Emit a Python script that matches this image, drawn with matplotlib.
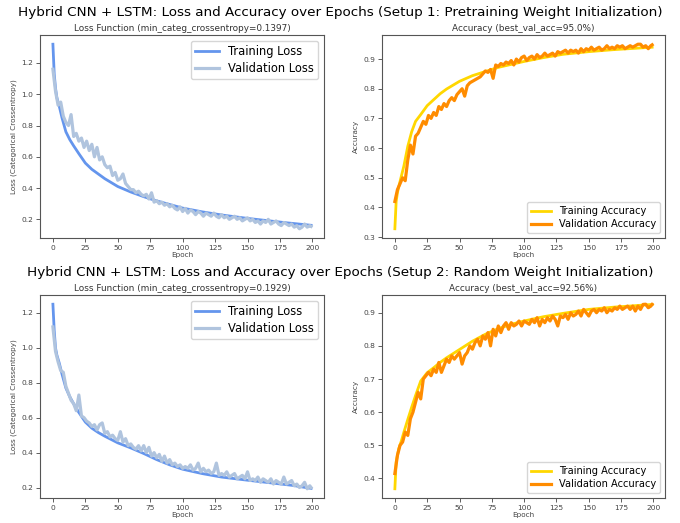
import numpy as np
import matplotlib
matplotlib.use("Agg")
import matplotlib.pyplot as plt

# epochs used for the noisy validation curves (every 2nd epoch + last one)
val_epochs = list(range(0, 200, 2)) + [199]

# ---------------- Setup 1: pretraining weight init ----------------
s1_train_loss_ep = [0, 1, 2, 3, 4, 5, 7, 10, 13, 16, 20, 25, 30, 35, 40, 50, 60, 70, 80, 90, 100, 115, 130, 150, 165, 180, 199]
s1_train_loss = [1.32, 1.13, 1.04, 0.98, 0.95, 0.92, 0.85, 0.76, 0.71, 0.67, 0.62, 0.56, 0.52, 0.49, 0.46, 0.41, 0.375,
                 0.345, 0.318, 0.295, 0.272, 0.248, 0.228, 0.206, 0.192, 0.178, 0.162]
s1_val_loss = [1.16, 1.02, 0.93, 0.95, 0.86, 0.82, 0.80, 0.87, 0.73, 0.75,
               0.70, 0.72, 0.66, 0.70, 0.64, 0.68, 0.60, 0.66, 0.58, 0.60,
               0.55, 0.53, 0.54, 0.48, 0.50, 0.45, 0.46, 0.49, 0.43, 0.41,
               0.39, 0.39, 0.37, 0.38, 0.36, 0.35, 0.36, 0.33, 0.37, 0.31,
               0.32, 0.30, 0.31, 0.29, 0.30, 0.28, 0.29, 0.27, 0.26, 0.28,
               0.25, 0.27, 0.24, 0.26, 0.25, 0.23, 0.25, 0.24, 0.22, 0.24,
               0.23, 0.22, 0.24, 0.22, 0.21, 0.23, 0.21, 0.22, 0.20, 0.21,
               0.22, 0.20, 0.21, 0.19, 0.20, 0.21, 0.19, 0.20, 0.18, 0.19,
               0.17, 0.19, 0.18, 0.20, 0.17, 0.18, 0.19, 0.17, 0.16, 0.18,
               0.17, 0.16, 0.17, 0.15, 0.16, 0.1397, 0.15, 0.17, 0.15, 0.16,
               0.155]

s1_train_acc_ep = [0, 1, 2, 3, 5, 7, 10, 13, 16, 20, 25, 30, 35, 40, 50, 60, 70, 80, 90, 100, 115, 130, 150, 170, 185, 199]
s1_train_acc = [0.328, 0.42, 0.45, 0.47, 0.505, 0.54, 0.606, 0.655, 0.69, 0.713, 0.743, 0.763, 0.783, 0.799, 0.825,
                0.844, 0.858, 0.872, 0.882, 0.892, 0.905, 0.916, 0.925, 0.932, 0.936, 0.94]
s1_val_acc = [0.42, 0.46, 0.48, 0.50, 0.49, 0.56, 0.61, 0.58, 0.64, 0.65,
              0.67, 0.69, 0.68, 0.71, 0.70, 0.72, 0.71, 0.74, 0.73, 0.75,
              0.74, 0.76, 0.77, 0.76, 0.78, 0.79, 0.80, 0.775, 0.81, 0.82,
              0.825, 0.83, 0.835, 0.84, 0.85, 0.86, 0.855, 0.865, 0.835, 0.88,
              0.875, 0.885, 0.88, 0.89, 0.885, 0.895, 0.88, 0.90, 0.89, 0.905,
              0.91, 0.895, 0.905, 0.91, 0.90, 0.915, 0.905, 0.91, 0.92, 0.91,
              0.915, 0.92, 0.91, 0.925, 0.92, 0.925, 0.93, 0.92, 0.93, 0.925,
              0.93, 0.92, 0.935, 0.925, 0.935, 0.93, 0.94, 0.93, 0.935, 0.94,
              0.93, 0.935, 0.945, 0.935, 0.94, 0.935, 0.945, 0.94, 0.945, 0.935,
              0.94, 0.945, 0.94, 0.945, 0.95, 0.95, 0.94, 0.945, 0.935, 0.945,
              0.948]

# ---------------- Setup 2: random weight init ----------------
s2_train_loss_ep = [0, 1, 2, 3, 5, 7, 10, 13, 16, 20, 25, 30, 35, 40, 50, 60, 70, 80, 90, 100, 115, 130, 150, 170, 185, 199]
s2_train_loss = [1.25, 1.10, 1.00, 0.96, 0.91, 0.85, 0.77, 0.72, 0.68, 0.63, 0.575, 0.54, 0.515, 0.494, 0.456, 0.427,
                 0.395, 0.36, 0.33, 0.305, 0.28, 0.26, 0.242, 0.225, 0.212, 0.195]
s2_val_loss = [1.12, 0.98, 0.92, 0.87, 0.86, 0.78, 0.74, 0.70, 0.68, 0.64,
               0.73, 0.61, 0.60, 0.58, 0.57, 0.55, 0.56, 0.53, 0.56, 0.57,
               0.51, 0.52, 0.49, 0.50, 0.48, 0.47, 0.52, 0.46, 0.48, 0.44,
               0.45, 0.43, 0.42, 0.44, 0.41, 0.44, 0.40, 0.43, 0.38, 0.40,
               0.37, 0.39, 0.35, 0.38, 0.34, 0.36, 0.33, 0.34, 0.32, 0.33,
               0.31, 0.32, 0.31, 0.33, 0.30, 0.31, 0.34, 0.29, 0.31, 0.29,
               0.30, 0.28, 0.29, 0.34, 0.27, 0.28, 0.27, 0.29, 0.26, 0.27,
               0.28, 0.25, 0.26, 0.27, 0.25, 0.29, 0.24, 0.25, 0.24, 0.26,
               0.23, 0.25, 0.24, 0.23, 0.25, 0.22, 0.24, 0.23, 0.22, 0.26,
               0.22, 0.23, 0.24, 0.21, 0.22, 0.20, 0.21, 0.23, 0.1929, 0.21,
               0.20]

s2_train_acc_ep = [0, 1, 2, 3, 5, 7, 10, 13, 16, 20, 25, 30, 35, 40, 50, 60, 70, 80, 90, 100, 115, 130, 150, 170, 185, 199]
s2_train_acc = [0.369, 0.45, 0.47, 0.49, 0.513, 0.54, 0.578, 0.615, 0.65, 0.694, 0.719, 0.734, 0.75, 0.764, 0.789,
                0.814, 0.835, 0.852, 0.865, 0.875, 0.888, 0.898, 0.91, 0.917, 0.921, 0.925]
s2_val_acc = [0.415, 0.47, 0.50, 0.51, 0.54, 0.53, 0.58, 0.60, 0.63, 0.66,
              0.64, 0.70, 0.71, 0.72, 0.71, 0.73, 0.72, 0.75, 0.72, 0.74,
              0.76, 0.75, 0.77, 0.76, 0.77, 0.78, 0.745, 0.77, 0.78, 0.80,
              0.79, 0.81, 0.82, 0.80, 0.83, 0.82, 0.84, 0.80, 0.85, 0.83,
              0.86, 0.84, 0.86, 0.87, 0.85, 0.87, 0.86, 0.865, 0.875, 0.86,
              0.875, 0.87, 0.865, 0.88, 0.87, 0.885, 0.86, 0.88, 0.87, 0.885,
              0.875, 0.89, 0.88, 0.86, 0.89, 0.885, 0.895, 0.88, 0.90, 0.89,
              0.895, 0.905, 0.89, 0.91, 0.90, 0.89, 0.905, 0.91, 0.90, 0.91,
              0.905, 0.915, 0.90, 0.91, 0.905, 0.915, 0.91, 0.92, 0.91, 0.915,
              0.92, 0.91, 0.92, 0.905, 0.92, 0.91, 0.925, 0.9256, 0.915, 0.92,
              0.925]

row_titles = ["Hybrid CNN + LSTM: Loss and Accuracy over Epochs (Setup 1: Pretraining Weight Initialization)",
              "Hybrid CNN + LSTM: Loss and Accuracy over Epochs (Setup 2: Random Weight Initialization)"]
loss_titles = ["Loss Function (min_categ_crossentropy=0.1397)", "Loss Function (min_categ_crossentropy=0.1929)"]
acc_titles = ["Accuracy (best_val_acc=95.0%)", "Accuracy (best_val_acc=92.56%)"]

rows = [
    (s1_train_loss_ep, s1_train_loss, s1_val_loss, s1_train_acc_ep, s1_train_acc, s1_val_acc),
    (s2_train_loss_ep, s2_train_loss, s2_val_loss, s2_train_acc_ep, s2_train_acc, s2_val_acc),
]

W, H = 680, 523
fig = plt.figure(figsize=(W / 100, H / 100), dpi=100)


def style(ax, title, ylabel):
    ax.set_title(title, fontsize=6.4, color="#333333", pad=3)
    ax.set_xlabel("Epoch", fontsize=5.2, color="#444444", labelpad=1)
    ax.set_ylabel(ylabel, fontsize=5.2, color="#444444", labelpad=3)
    ax.tick_params(labelsize=5.4, colors="#444444", length=3, width=0.6, pad=2)
    for sp in ax.spines.values():
        sp.set_color("#555555")
        sp.set_linewidth(0.8)


for i, (tl_ep, tl, vl, ta_ep, ta, va) in enumerate(rows):
    top = 35 + i * 260
    bottom = 238 + i * 260
    ax1 = fig.add_axes([40 / W, 1 - bottom / H, 284 / W, (bottom - top) / H])
    ax2 = fig.add_axes([382 / W, 1 - bottom / H, 283 / W, (bottom - top) / H])

    ax1.plot(tl_ep, tl, color="cornflowerblue", lw=2.0, label="Training Loss")
    ax1.plot(val_epochs, vl, color="lightsteelblue", lw=2.3, label="Validation Loss")
    ax1.set_xticks([0, 25, 50, 75, 100, 125, 150, 175, 200])
    style(ax1, loss_titles[i], "Loss (Categorical Crossentropy)")
    ax1.legend(loc="upper right", fontsize=8.3, handlelength=2.0, borderpad=0.4, labelspacing=0.3)

    ax2.plot(ta_ep, ta, color="gold", lw=2.0, label="Training Accuracy")
    ax2.plot(val_epochs, va, color="darkorange", lw=2.3, label="Validation Accuracy")
    ax2.set_xticks([0, 25, 50, 75, 100, 125, 150, 175, 200])
    style(ax2, acc_titles[i], "Accuracy")
    ax2.legend(loc="lower right", fontsize=7.1, handlelength=2.0, borderpad=0.4, labelspacing=0.3)

    fig.text(0.5, 1 - (12.5 + i * 260) / H, row_titles[i], ha="center", va="center", fontsize=9.7)

fig.savefig("out.png", dpi=100)
